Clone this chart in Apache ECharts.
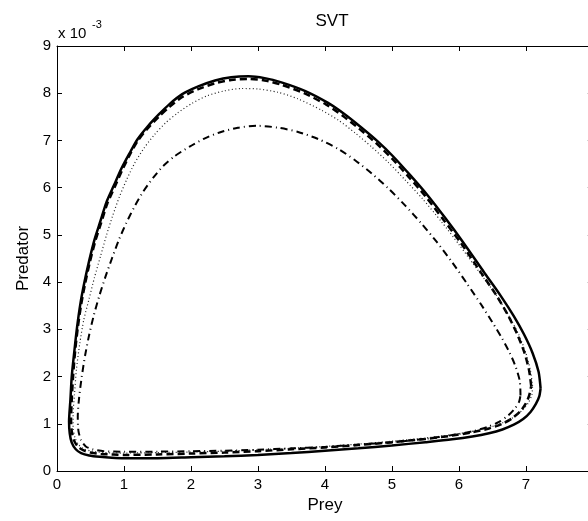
<!DOCTYPE html>
<html>
<head>
<meta charset="utf-8">
<script src="https://cdn.jsdelivr.net/npm/echarts@6/dist/echarts.min.js"></script>
<style>html,body{margin:0;padding:0;background:#fff;overflow:hidden}#c{width:600px;height:521px}</style>
</head>
<body>
<div id="c"></div>
<script>
// Values of Predator are in units of 1e-3 (axis multiplier "x 10^-3")
const xTicks = [0,1,2,3,4,5,6,7,8];
const yTicks = [0,1,2,3,4,5,6,7,8,9];

const solidX = [7.22,7.19,7.10,6.97,6.82,6.62,6.38,6.06,5.80,5.52,5.27,5.02,4.78,4.53,4.28,4.04,3.70,3.35,3.10,2.86,2.60,2.36,2.10,1.87,1.68,1.52,1.35,1.20,1.08,0.96,0.85,0.74,0.65,0.56,0.48,0.41,0.35,0.30,0.26,0.22,0.20,0.18,0.19,0.22,0.28,0.36,0.48,0.64,0.82,1.00,1.50,2.00,2.50,3.00,3.50,4.00,4.50,5.00,5.50,5.90,6.20,6.45,6.65,6.82,6.96,7.07,7.15,7.20];
const solidY = [1.75,2.10,2.50,2.90,3.28,3.72,4.20,4.85,5.35,5.86,6.27,6.66,6.99,7.29,7.57,7.80,8.05,8.23,8.32,8.36,8.34,8.27,8.14,7.98,7.77,7.55,7.29,7.02,6.72,6.40,6.05,5.70,5.30,4.90,4.45,4.00,3.55,3.05,2.55,2.00,1.50,1.05,0.80,0.60,0.46,0.38,0.33,0.30,0.28,0.27,0.27,0.29,0.31,0.34,0.38,0.43,0.48,0.54,0.61,0.67,0.73,0.80,0.88,0.98,1.10,1.25,1.42,1.58];

const dashX = [7.08,7.05,6.98,6.87,6.74,6.56,6.33,6.03,5.77,5.50,5.25,5.00,4.76,4.51,4.26,4.02,3.69,3.35,3.10,2.86,2.60,2.36,2.10,1.87,1.68,1.52,1.35,1.20,1.08,0.97,0.86,0.75,0.66,0.57,0.49,0.42,0.36,0.31,0.27,0.24,0.22,0.21,0.22,0.25,0.31,0.39,0.50,0.66,0.85,1.00,1.50,2.00,2.50,3.00,3.50,4.00,4.50,5.00,5.50,5.90,6.20,6.45,6.65,6.80,6.92,7.00,7.05];
const dashY = [1.80,2.12,2.50,2.90,3.28,3.72,4.20,4.83,5.32,5.82,6.23,6.62,6.95,7.25,7.53,7.76,8.00,8.18,8.27,8.30,8.28,8.21,8.08,7.92,7.71,7.50,7.25,6.98,6.68,6.36,6.01,5.66,5.26,4.86,4.42,3.97,3.52,3.03,2.53,2.00,1.50,1.10,0.85,0.66,0.52,0.44,0.39,0.36,0.35,0.34,0.35,0.37,0.39,0.42,0.46,0.50,0.55,0.61,0.68,0.75,0.82,0.90,1.00,1.12,1.27,1.43,1.60];

const dotX = [7.10,7.07,7.00,6.89,6.74,6.55,6.30,6.00,5.74,5.46,5.20,4.95,4.70,4.45,4.20,3.95,3.60,3.30,3.00,2.75,2.50,2.25,2.02,1.80,1.62,1.46,1.30,1.16,1.04,0.93,0.83,0.74,0.65,0.56,0.48,0.40,0.34,0.29,0.26,0.24,0.24,0.27,0.32,0.40,0.52,0.70,1.00,1.50,2.00,2.50,3.00,3.50,4.00,4.50,5.00,5.50,5.90,6.20,6.45,6.65,6.82,6.95,7.04,7.09];
const dotY = [1.80,2.12,2.50,2.90,3.30,3.74,4.22,4.80,5.28,5.76,6.16,6.53,6.86,7.16,7.43,7.64,7.88,8.02,8.09,8.10,8.05,7.95,7.79,7.58,7.37,7.13,6.84,6.52,6.17,5.80,5.40,5.00,4.55,4.10,3.65,3.20,2.70,2.15,1.60,1.20,0.92,0.70,0.56,0.47,0.42,0.39,0.38,0.39,0.40,0.42,0.45,0.48,0.52,0.57,0.63,0.70,0.77,0.84,0.92,1.02,1.14,1.29,1.45,1.62];

const dashDotX = [6.92,6.91,6.85,6.76,6.64,6.50,6.33,6.13,5.90,5.67,5.43,5.20,4.95,4.70,4.45,4.20,3.90,3.60,3.30,3.00,2.70,2.45,2.20,1.98,1.75,1.58,1.43,1.28,1.15,1.03,0.92,0.82,0.72,0.63,0.55,0.48,0.42,0.37,0.33,0.31,0.32,0.36,0.43,0.53,0.70,1.00,1.50,2.00,2.50,3.00,3.50,4.00,4.50,5.00,5.50,5.90,6.20,6.42,6.60,6.74,6.84,6.90];
const dashDotY = [1.60,1.90,2.20,2.50,2.82,3.15,3.53,3.95,4.42,4.85,5.26,5.62,5.98,6.30,6.58,6.82,7.03,7.18,7.27,7.31,7.27,7.18,7.04,6.87,6.66,6.45,6.20,5.90,5.58,5.24,4.88,4.50,4.10,3.70,3.30,2.88,2.45,2.00,1.55,1.15,0.85,0.65,0.52,0.46,0.42,0.41,0.41,0.42,0.43,0.45,0.48,0.51,0.56,0.61,0.68,0.76,0.84,0.93,1.04,1.18,1.33,1.47];

function loop(xs, ys){ const d = xs.map((x,i)=>[x,ys[i]]); d.push(d[0]); return d; }

const FONT = 'Liberation Sans';
const chart = echarts.init(document.getElementById('c'), null, {renderer:'canvas'});

function mk(name, xs, ys, style){
  return {name, type:'line', data:loop(xs,ys), showSymbol:false, smooth:0.25,
    lineStyle:style, z:style.z||2, animation:false};
}

chart.setOption({
  animation:false,
  backgroundColor:'#fff',
  title:{text:'SVT', left:327, top:8, textAlign:'center',
    textStyle:{fontFamily:FONT, fontSize:17, fontWeight:'normal', color:'#000'}},
  grid:{left:57, top:46, right:3, bottom:50, containLabel:false},
  xAxis:[{type:'value', min:xTicks[0], max:xTicks[xTicks.length-1], interval:1,
    name:'Prey', nameLocation:'middle', nameGap:26,
    nameTextStyle:{fontFamily:FONT, fontSize:17, color:'#000', verticalAlign:'top'},
    axisLine:{lineStyle:{color:'#000', width:1}},
    axisTick:{inside:true, length:5, lineStyle:{color:'#000'}},
    axisLabel:{fontFamily:FONT, fontSize:15, color:'#000', margin:6},
    splitLine:{show:false}},
   {type:'value', position:'top', min:0, max:8, interval:1,
    axisLine:{onZero:false, lineStyle:{color:'#000', width:1}},
    axisTick:{inside:true, length:5, lineStyle:{color:'#000'}},
    axisLabel:{show:false}, splitLine:{show:false}}],
  yAxis:[{type:'value', min:yTicks[0], max:yTicks[yTicks.length-1], interval:1,
    name:'Predator', nameLocation:'middle', nameGap:25,
    nameTextStyle:{fontFamily:FONT, fontSize:17, color:'#000'},
    axisLine:{show:true, lineStyle:{color:'#000', width:1}},
    axisTick:{show:true, inside:true, length:5, lineStyle:{color:'#000'}},
    axisLabel:{fontFamily:FONT, fontSize:15, color:'#000', margin:6},
    splitLine:{show:false}},
   {type:'value', position:'right', min:0, max:9, interval:1,
    axisLine:{show:true, onZero:false, lineStyle:{color:'#000'}},
    axisTick:{show:true, inside:true, length:5},
    axisLabel:{show:false}, splitLine:{show:false}}],
  graphic:[
    {type:'text', left:58, top:26, style:{text:'x 10', font:'15px "Liberation Sans"', fill:'#000'}},
    {type:'text', left:92, top:19, style:{text:'-3', font:'11px "Liberation Sans"', fill:'#000'}}
  ],
  series:[
    mk('solid', solidX, solidY, {color:'#000', width:2.5, type:'solid', z:4}),
    mk('dashed', dashX, dashY, {color:'#000', width:2.5, type:[7,4]}),
    mk('dotted', dotX, dotY, {color:'#222', width:1.2, type:[1,2.5]}),
    mk('dashdot', dashDotX, dashDotY, {color:'#000', width:2, type:[7,4,1,4]})
  ]
});
</script>
</body>
</html>
